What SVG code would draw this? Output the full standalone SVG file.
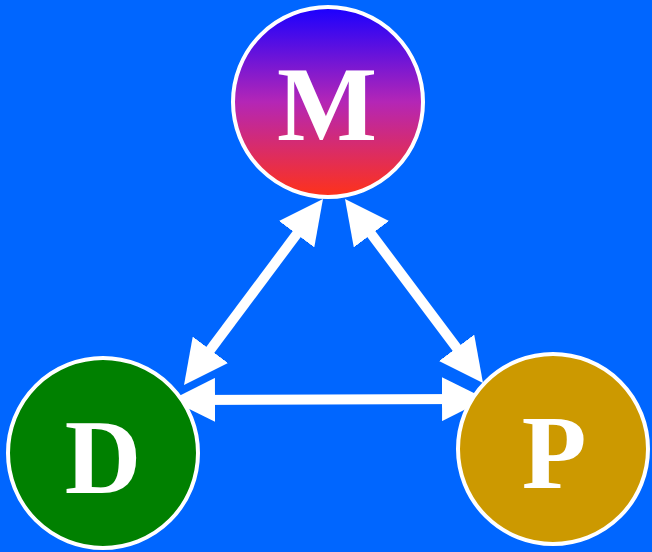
<svg xmlns="http://www.w3.org/2000/svg" width="652" height="552" viewBox="0 0 652 552">
<style>
.node{stroke:#fff;stroke-width:4}
.lbl{font-family:"Liberation Serif","Times New Roman",serif;font-weight:bold;font-size:106px;fill:#fff;text-anchor:middle}
.edge{stroke:#fff;stroke-width:10;fill:none;marker-start:url(#ah);marker-end:url(#ah)}
</style>
<defs>
<linearGradient id="gM" x1="0" y1="0" x2="0" y2="1">
<stop offset="0" stop-color="#1a00ff"/>
<stop offset="0.5" stop-color="#b426b6"/>
<stop offset="1" stop-color="#ff3218"/>
</linearGradient>
<marker id="ah" viewBox="0 0 44 44" refX="24" refY="22" markerWidth="44" markerHeight="44" markerUnits="userSpaceOnUse" orient="auto-start-reverse">
<path d="M0,0 L44,22 L0,44 z" fill="#fff"/>
</marker>
</defs>
<rect width="652" height="552" fill="#0066ff"/>
<g id="connectors">
<line class="edge" x1="311" y1="215" x2="196" y2="369"/>
<line class="edge" x1="357" y1="215" x2="471" y2="367"/>
<line class="edge" x1="191" y1="400" x2="466" y2="399"/>
</g>
<g id="node-M">
<circle class="node" cx="328" cy="102" r="95" fill="url(#gM)"/>
<text class="lbl" x="327" y="140">M</text>
</g>
<g id="node-D">
<circle class="node" cx="103" cy="453" r="95" fill="#008000"/>
<text class="lbl" x="103" y="493">D</text>
</g>
<g id="node-P">
<circle class="node" cx="553" cy="449" r="95" fill="#cc9900"/>
<text class="lbl" x="554" y="488">P</text>
</g>
</svg>
